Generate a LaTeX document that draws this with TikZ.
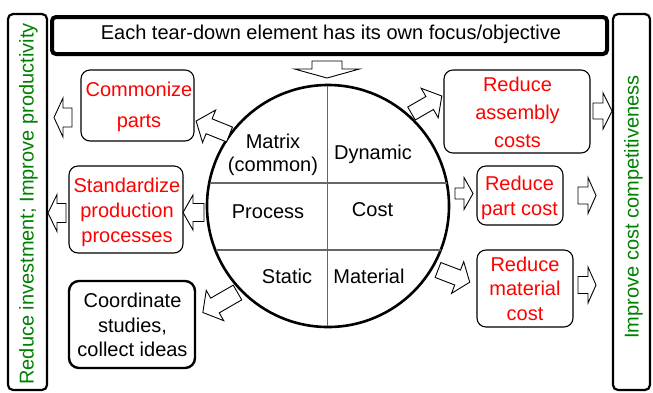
\documentclass[tikz,border=0pt]{standalone}
\usepackage{fontspec}
\setmainfont{Liberation Sans}
\definecolor{txtred}{RGB}{255,0,0}
\definecolor{txtgreen}{RGB}{0,128,0}
\newcommand\blockarrow[7]{%
  \draw[arr, shift={(#1,#2)}, rotate=#3]
    (0,-#5/2) -- ({#4-#7},-#5/2) -- ({#4-#7},-#6/2) -- (#4,0) --
    ({#4-#7},#6/2) -- ({#4-#7},#5/2) -- (0,#5/2) -- cycle;}
\tikzset{
  box/.style={draw=black, line width=1.1pt, rounded corners=9pt, fill=white, inner sep=0pt},
  boldbox/.style={draw=black, line width=2.4pt, rounded corners=10pt, fill=white, inner sep=0pt},
  sidebar/.style={draw=black, line width=2.2pt, rounded corners=5pt, inner sep=0pt},
  topbar/.style={draw=black, line width=4pt, rounded corners=4pt, inner sep=0pt},
  redtxt/.style={text=txtred, align=center, inner sep=0pt},
  blktxt/.style={text=black, align=center, inner sep=0pt},
  greentxt/.style={text=txtgreen, inner sep=0pt},
  arr/.style={draw=black, line width=0.9pt, fill=white, line join=miter},
  divider/.style={draw=black!60, line width=1.8pt},
}
\begin{document}
\begin{tikzpicture}[x=1pt,y=-1pt, font=\fontsize{20}{24}\selectfont]
\useasboundingbox (0,0) rectangle (653,392);
% side bars
\node[sidebar, minimum width=39, minimum height=376] (lbar) at (27.5,202) {};
\node[greentxt, rotate=90] (ltxt) at (28.5,204) {Reduce investment; Improve productivity};
\node[sidebar, minimum width=37, minimum height=376] (rbar) at (631.5,202) {};
\node[greentxt, rotate=90] (rtxt) at (633.5,207) {Improve cost competitiveness};
% top bar
\node[topbar, minimum width=555, minimum height=37] (top) at (329.5,35.5) {};
\node[blktxt] (toptxt) at (331,34) {Each tear-down element has its own focus/objective};
% circle
\node[circle, draw=black, line width=2.6pt, minimum size=242, inner sep=0pt] (wheel) at (328,206) {};
\coordinate (vt) at (327.5,86);
\coordinate (vb) at (327.5,326);
\coordinate (h1l) at (209.5,183);
\coordinate (h1r) at (446.5,183);
\coordinate (h2l) at (215.5,250);
\coordinate (h2r) at (440.5,250);
\draw[divider] (vt) -- (vb);
\draw[divider] (h1l) -- (h1r);
\draw[divider] (h2l) -- (h2r);
\node[blktxt, font=\fontsize{20}{23}\selectfont] (matrix) at (273,155) {Matrix\\(common)};
\node[blktxt] (dynamic) at (373,154.5) {Dynamic};
\node[blktxt] (process) at (268,212) {Process};
\node[blktxt] (cost) at (372.5,210) {Cost};
\node[blktxt] (static) at (287,276) {Static};
\node[blktxt] (material) at (369,276) {Material};
% boxes
\node[box, minimum width=113, minimum height=71] (cp) at (137.5,105.5) {};
\node[redtxt, font=\fontsize{20}{31}\selectfont] (cptxt) at (139,107) {Commonize\\parts};
\node[box, minimum width=114, minimum height=87] (sp) at (126,209.5) {};
\node[redtxt, font=\fontsize{20}{25}\selectfont] (sptxt) at (127,212) {Standardize\\production\\processes};
\node[boldbox, minimum width=126, minimum height=87] (co) at (132,324.5) {};
\node[blktxt, font=\fontsize{20}{24.5}\selectfont] (cotxt) at (132.5,325) {Coordinate\\studies,\\collect ideas};
\node[box, minimum width=146, minimum height=83] (ra) at (517,111.5) {};
\node[redtxt, font=\fontsize{20}{28}\selectfont] (ratxt) at (517.5,112) {Reduce\\assembly\\costs};
\node[box, minimum width=86, minimum height=59] (rp) at (520,195.5) {};
\node[redtxt, font=\fontsize{20}{25}\selectfont] (rptxt) at (519.5,198) {Reduce\\part cost};
\node[box, minimum width=96, minimum height=77] (rm) at (525,288.5) {};
\node[redtxt, font=\fontsize{20}{24.5}\selectfont] (rmtxt) at (525,288.5) {Reduce\\material\\cost};
% block arrows: tail x, tail y, angle, length, shaft, head width, head length
\blockarrow{327}{61}{-90}{17}{30}{65}{9}
\blockarrow{229.5}{134.5}{158}{36}{16}{35}{14}
\blockarrow{72}{117.5}{180}{18}{19}{39}{9}
\blockarrow{204}{212.5}{180}{21}{18}{35}{10}
\blockarrow{66}{213}{180}{18}{19}{37}{9}
\blockarrow{237.5}{292.5}{210}{40}{17}{35}{14}
\blockarrow{411.5}{113.5}{30}{35}{15}{34}{14}
\blockarrow{593}{111}{0}{19}{16}{36}{9}
\blockarrow{455}{193.5}{0}{18}{11}{32}{9}
\blockarrow{578}{195.5}{0}{18}{17}{36}{8}
\blockarrow{438}{270}{-21}{34}{16}{34}{13}
\blockarrow{578}{285}{0}{18}{17}{36}{8}
\end{tikzpicture}
\end{document}
